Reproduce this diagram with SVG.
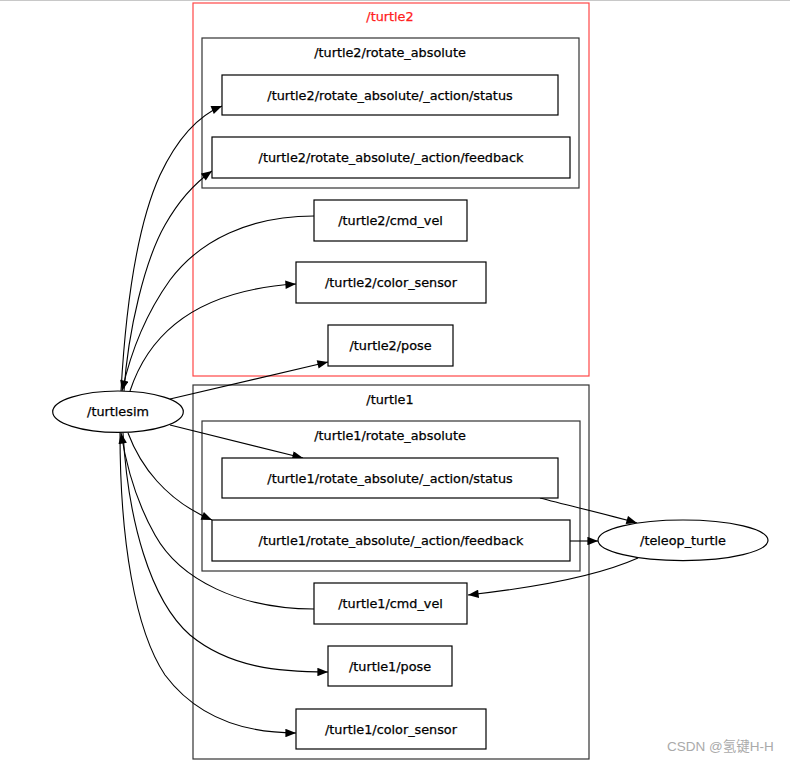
<svg xmlns="http://www.w3.org/2000/svg" width="790" height="762" viewBox="0 0 790 762">
<defs>
<style>
text{font-family:"DejaVu Sans","Liberation Sans",sans-serif;font-size:12.8px;fill:#000;stroke:#000;stroke-width:0.25;text-anchor:middle}
.cl{fill:none;stroke:#333;stroke-width:1.2}
.red{fill:none;stroke:#ff4646;stroke-width:1.2}
.nd{fill:#fff;stroke:#000;stroke-width:1.2}
.ed{fill:none;stroke:#000;stroke-width:1.1;marker-end:url(#ah)}
.wm{font-family:"Liberation Sans","Noto Sans CJK SC",sans-serif;font-size:13.5px;fill:#aaa;stroke:none;text-anchor:start}
</style>
<marker id="ah" viewBox="0 0 10 8" markerWidth="12" markerHeight="8.5" refX="10" refY="4" orient="auto" markerUnits="userSpaceOnUse">
<path d="M0,0 L10,4 L0,8 z" fill="#000"/>
</marker>
</defs>
<rect width="790" height="762" fill="#fff"/>
<line x1="0" y1="0.5" x2="790" y2="0.5" stroke="#c8c8c8" stroke-width="1"/>

<g id="cluster_turtle2">
<rect class="red" x="193" y="3" width="396" height="373"/>
<text x="390" y="20.5" style="fill:#ff2020;stroke:#ff2020">/turtle2</text>
</g>
<g id="cluster_turtle2_rotate_absolute">
<rect class="cl" x="202" y="38" width="377" height="150"/>
<text x="390" y="56.5">/turtle2/rotate_absolute</text>
</g>
<g id="cluster_turtle1">
<rect class="cl" x="193" y="385" width="396" height="374"/>
<text x="390" y="403.5">/turtle1</text>
</g>
<g id="cluster_turtle1_rotate_absolute">
<rect class="cl" x="202" y="421" width="378" height="150"/>
<text x="390" y="439.5">/turtle1/rotate_absolute</text>
</g>

<g id="connectors">
<path class="ed" d="M121,391 C125,320 135,230 160,175 C178,137 200,115 222,106"/>
<path class="ed" d="M124,391 C128,330 145,260 165,225 C178,202 195,183 212,171"/>
<path class="ed" d="M314,216 C250,216 200,240 170,280 C145,315 130,355 122,391"/>
<path class="ed" d="M130,391 C150,330 200,290 296,284"/>
<path class="ed" d="M170,399 L328,362"/>
<path class="ed" d="M170,425 L303,458"/>
<path class="ed" d="M128,433 C140,465 165,500 212,520"/>
<path class="ed" d="M314,609 C240,609 180,580 155,535 C138,505 127,470 121,433"/>
<path class="ed" d="M123,433 C128,520 150,600 190,635 C230,668 280,672 328,672"/>
<path class="ed" d="M120,433 C120,540 135,630 165,675 C195,715 240,733 296,733"/>
<path class="ed" d="M540,498 C570,506 610,515 637,523"/>
<path class="ed" d="M570,541 L598,541"/>
<path class="ed" d="M638,558 C600,575 540,587 468,595"/>
</g>

<g id="turtle2_status">
<rect class="nd" x="222" y="75" width="336" height="40"/>
<text x="390" y="99.5">/turtle2/rotate_absolute/_action/status</text>
</g>
<g id="turtle2_feedback">
<rect class="nd" x="212" y="137" width="358" height="41"/>
<text x="391" y="162">/turtle2/rotate_absolute/_action/feedback</text>
</g>
<g id="turtle2_cmd_vel">
<rect class="nd" x="314" y="200" width="153" height="41"/>
<text x="390.5" y="225">/turtle2/cmd_vel</text>
</g>
<g id="turtle2_color_sensor">
<rect class="nd" x="296" y="262" width="190" height="41"/>
<text x="391" y="287">/turtle2/color_sensor</text>
</g>
<g id="turtle2_pose">
<rect class="nd" x="328" y="325" width="125" height="41"/>
<text x="390.5" y="350">/turtle2/pose</text>
</g>

<g id="turtlesim">
<ellipse class="nd" cx="118" cy="411.7" rx="65.3" ry="20.7"/>
<text x="118" y="416">/turtlesim</text>
</g>

<g id="turtle1_status">
<rect class="nd" x="222" y="458" width="336" height="40"/>
<text x="390" y="482.5">/turtle1/rotate_absolute/_action/status</text>
</g>
<g id="turtle1_feedback">
<rect class="nd" x="212" y="520" width="358" height="41"/>
<text x="391" y="545">/turtle1/rotate_absolute/_action/feedback</text>
</g>
<g id="teleop_turtle">
<ellipse class="nd" cx="683" cy="540.3" rx="85" ry="20.3"/>
<text x="683" y="545">/teleop_turtle</text>
</g>
<g id="turtle1_cmd_vel">
<rect class="nd" x="314" y="583" width="153" height="41"/>
<text x="390.5" y="608">/turtle1/cmd_vel</text>
</g>
<g id="turtle1_pose">
<rect class="nd" x="328" y="646" width="124" height="40"/>
<text x="390" y="670.5">/turtle1/pose</text>
</g>
<g id="turtle1_color_sensor">
<rect class="nd" x="296" y="709" width="190" height="40"/>
<text x="391" y="733.5">/turtle1/color_sensor</text>
</g>

<text class="wm" x="667" y="751">CSDN @氢键H-H</text>
</svg>
